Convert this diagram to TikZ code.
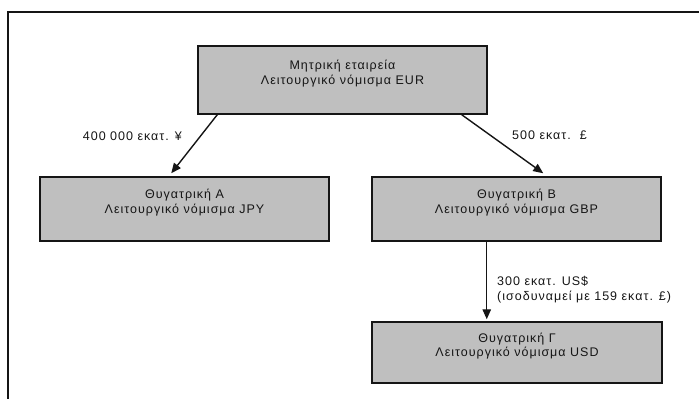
\documentclass[tikz,border=0pt]{standalone}
\usepackage{fontspec}
\setmainfont[LetterSpace=8]{Liberation Sans}
\usetikzlibrary{arrows.meta,calc}
\definecolor{boxfill}{HTML}{BFBFBF}
\definecolor{inkc}{HTML}{151515}
\newcommand\toprule{\rule{0pt}{12pt}}
\newcommand\botrule{\rule[-18pt]{0pt}{0pt}}
\begin{document}
\begin{tikzpicture}[x=1pt,y=-1pt,
  unit/.style={draw=inkc, line width=1.5pt, fill=boxfill, minimum width=289pt,
    align=center, font=\fontsize{12.5}{14.5}\selectfont, inner sep=0pt, text=inkc},
  link/.style={draw=inkc, line width=1.4pt, -{Triangle[length=10pt,width=8.5pt]}},
  lbl/.style={font=\fontsize{12.5}{15}\selectfont, inner sep=0pt, text=inkc}]
\useasboundingbox (0,0) rectangle (699,399);
\draw[inkc, line width=1.2pt] (8,400) -- (8,12) -- (700,12);
\node[unit, minimum height=68pt] (parent) at (342.5,80) {\toprule Μητρική εταιρεία\\Λειτουργικό νόμισμα EUR\botrule};
\node[unit, minimum height=64pt] (childA) at (184.5,209) {\toprule Θυγατρική Α\\Λειτουργικό νόμισμα JPY\botrule};
\node[unit, minimum height=64pt] (childB) at (516.5,209) {\toprule Θυγατρική Β\\Λειτουργικό νόμισμα GBP\botrule};
\node[unit, minimum height=61pt, minimum width=290pt] (childC) at (517,352.5) {\toprule Θυγατρική Γ\\Λειτουργικό νόμισμα USD\botrule};
\draw[link] ($(parent.south west)+(20,0)$) -- ($(childA.north west)+(132,-3)$);
\draw[link] ($(parent.south east)+(-26,0)$) -- ($(childB.north west)+(172,-3)$);
\draw[link] ($(childB.south west)+(115.5,0)$) -- ($(childC.north west)+(115.5,-2)$);
\node[lbl, anchor=east] (la) at (182,136) {400 000 εκατ. ¥};
\node[lbl, anchor=west] (lb) at (512,135) {500 εκατ.\ \ £};
\node[lbl, anchor=west, align=left] (lc) at (497,289.5) {300 εκατ. US\$\\(ισοδυναμεί με 159 εκατ. £)};
\end{tikzpicture}
\end{document}
